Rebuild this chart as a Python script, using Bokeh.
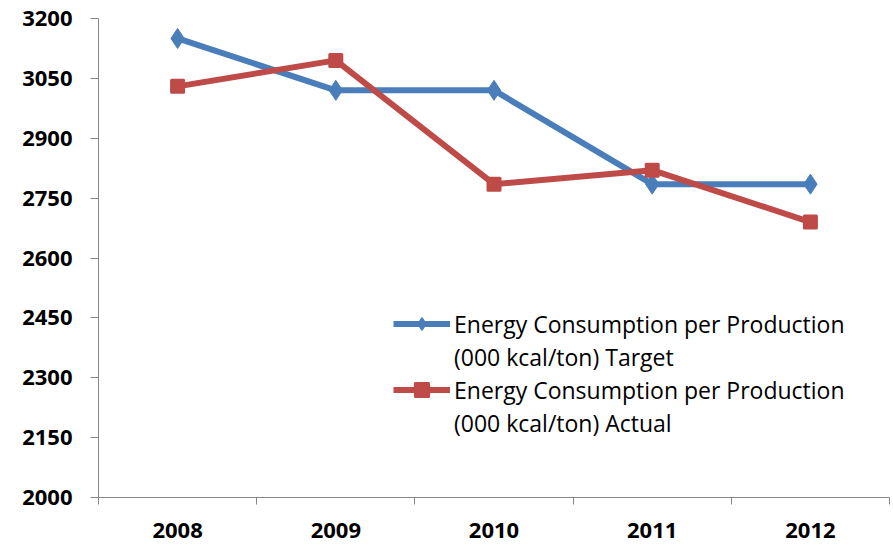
from bokeh.plotting import figure
from bokeh.models import FixedTicker, Legend, LegendItem, ColumnDataSource
from bokeh.embed import file_html
from bokeh.resources import INLINE

years = ["2008", "2009", "2010", "2011", "2012"]
target = [3150, 3020, 3020, 2785, 2785]
actual = [3030, 3095, 2785, 2820, 2690]
y_ticks = [2000, 2150, 2300, 2450, 2600, 2750, 2900, 3050, 3200]
series_lines = [["Energy Consumption per Production", "(000 kcal/ton) Target"],
                ["Energy Consumption per Production", "(000 kcal/ton) Actual"]]

xpos = [i + 0.5 for i in range(len(years))]
src = ColumnDataSource(dict(x=xpos, target=target, actual=actual))

p = figure(width=893, height=545, output_backend="svg", toolbar_location=None,
           x_range=(0, len(years)), y_range=(y_ticks[0], y_ticks[-1]),
           min_border_left=98, min_border_top=18, min_border_right=4, min_border_bottom=48)
p.frame_width = 791
p.frame_height = 479
p.outline_line_color = None
p.xgrid.visible = False
p.ygrid.visible = False

blue = "#4A7EBB"
red = "#BE4B48"

l1 = p.line("x", "target", source=src, line_color=blue, line_width=6)
m1 = p.scatter("x", "target", source=src, marker="diamond", size=20, fill_color=blue,
               line_color=blue, line_width=1, line_join="round")
l2 = p.line("x", "actual", source=src, line_color=red, line_width=6)
m2 = p.scatter("x", "actual", source=src, marker="square", size=12, fill_color=red,
               line_color=red, line_width=3, line_join="round")
dummy = p.line(x=[], y=[], line_alpha=0)

# axes
tick_font = "Open Sans"
p.yaxis.ticker = FixedTicker(ticks=y_ticks)
p.yaxis.axis_line_color = "#868686"
p.yaxis.major_tick_line_color = "#868686"
p.yaxis.major_tick_out = 8
p.yaxis.major_tick_in = 0
p.yaxis.minor_tick_line_color = None
p.yaxis.major_label_text_font = tick_font
p.yaxis.major_label_text_font_style = "bold"
p.yaxis.major_label_text_font_size = "22px"
p.yaxis.major_label_text_color = "#000000"
p.yaxis.major_label_standoff = 18

p.xaxis.ticker = FixedTicker(ticks=xpos, minor_ticks=list(range(len(years) + 1)))
p.xaxis.major_label_overrides = {x: y for x, y in zip(xpos, years)}
p.xaxis.axis_line_color = "#868686"
p.xaxis.major_tick_line_color = None
p.xaxis.minor_tick_line_color = "#868686"
p.xaxis.minor_tick_out = 7
p.xaxis.minor_tick_in = 0
p.xaxis.major_label_text_font = tick_font
p.xaxis.major_label_text_font_style = "bold"
p.xaxis.major_label_text_font_size = "22px"
p.xaxis.major_label_text_color = "#000000"
p.xaxis.major_label_standoff = 18

legend = Legend(items=[LegendItem(label=series_lines[0][0], renderers=[l1, m1]),
                       LegendItem(label=series_lines[0][1], renderers=[dummy]),
                       LegendItem(label=series_lines[1][0], renderers=[l2, m2]),
                       LegendItem(label=series_lines[1][1], renderers=[dummy])],
                location=(295, 58))
legend.border_line_color = None
legend.background_fill_alpha = 0
legend.padding = 0
legend.margin = 0
legend.spacing = 0
legend.glyph_width = 57
legend.glyph_height = 33
legend.label_height = 33
legend.label_standoff = 4
legend.label_text_font = "Open Sans"
legend.label_text_font_size = "23px"
legend.label_text_color = "#000000"
p.add_layout(legend, "center")

open("out.html", "w").write(file_html(p, INLINE))
